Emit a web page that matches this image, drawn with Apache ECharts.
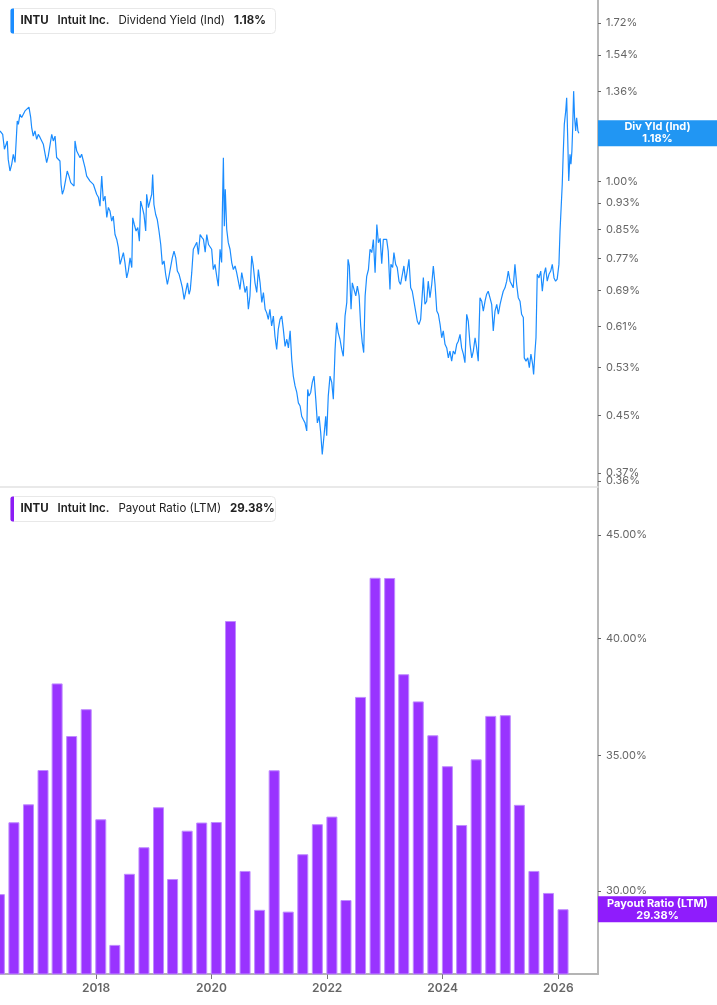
<!DOCTYPE html>
<html>
<head>
<meta charset="utf-8">
<title>INTU Dividend Yield / Payout Ratio</title>
<script src="https://cdn.jsdelivr.net/npm/echarts@6/dist/echarts.min.js"></script>
<style>
    html, body { margin: 0; padding: 0; background: #fff; }
    .chart { width: 717px; height: 1005px; }
</style>
</head>
<body>
<div class="chart"></div>
<script>
// 股息率 (Ind) 日期与数值
var yieldDates = [
    '2016-05-04', '2016-05-21', '2016-06-01', '2016-06-11', '2016-06-19', '2016-06-25', '2016-07-06', '2016-07-17', '2016-07-27', '2016-08-07',
    '2016-08-17', '2016-08-21', '2016-08-28', '2016-09-07', '2016-09-18', '2016-09-28', '2016-10-09', '2016-10-20', '2016-11-03', '2016-11-14',
    '2016-11-20', '2016-11-30', '2016-12-11', '2016-12-22', '2017-01-01', '2017-01-12', '2017-01-23', '2017-02-02', '2017-02-12', '2017-02-23',
    '2017-03-05', '2017-03-16', '2017-03-27', '2017-04-06', '2017-04-17', '2017-04-27', '2017-05-07', '2017-05-18', '2017-05-25', '2017-06-02',
    '2017-06-12', '2017-06-23', '2017-07-03', '2017-07-14', '2017-07-25', '2017-08-04', '2017-08-15', '2017-08-21', '2017-09-01', '2017-09-11',
    '2017-09-22', '2017-10-02', '2017-10-13', '2017-10-23', '2017-11-03', '2017-11-13', '2017-11-24', '2017-12-05', '2017-12-15', '2017-12-25',
    '2018-01-05', '2018-01-16', '2018-01-26', '2018-02-06', '2018-02-16', '2018-02-27', '2018-03-10', '2018-03-20', '2018-03-30', '2018-04-10',
    '2018-04-20', '2018-05-01', '2018-05-12', '2018-05-22', '2018-06-02', '2018-06-12', '2018-06-23', '2018-07-03', '2018-07-14', '2018-07-24',
    '2018-08-04', '2018-08-15', '2018-08-21', '2018-08-31', '2018-09-11', '2018-09-22', '2018-10-02', '2018-10-10', '2018-10-21', '2018-10-31',
    '2018-11-11', '2018-11-17', '2018-11-28', '2018-12-08', '2018-12-19', '2018-12-25', '2019-01-02', '2019-01-13', '2019-01-23', '2019-02-03',
    '2019-02-14', '2019-02-24', '2019-03-07', '2019-03-17', '2019-03-28', '2019-04-07', '2019-04-18', '2019-04-28', '2019-05-09', '2019-05-20',
    '2019-05-30', '2019-06-10', '2019-06-21', '2019-07-01', '2019-07-12', '2019-07-22', '2019-08-02', '2019-08-12', '2019-08-20', '2019-08-29',
    '2019-09-08', '2019-09-19', '2019-09-30', '2019-10-10', '2019-10-21', '2019-11-01', '2019-11-11', '2019-11-22', '2019-12-02', '2019-12-13',
    '2019-12-23', '2020-01-02', '2020-01-12', '2020-01-23', '2020-02-03', '2020-02-13', '2020-02-24', '2020-03-05', '2020-03-09', '2020-03-16',
    '2020-03-22', '2020-03-28', '2020-04-06', '2020-04-16', '2020-04-27', '2020-05-08', '2020-05-18', '2020-05-29', '2020-06-08', '2020-06-18',
    '2020-06-29', '2020-07-10', '2020-07-20', '2020-07-31', '2020-08-11', '2020-08-21', '2020-08-31', '2020-09-11', '2020-09-21', '2020-10-02',
    '2020-10-13', '2020-10-23', '2020-11-03', '2020-11-14', '2020-11-24', '2020-12-05', '2020-12-15', '2020-12-25', '2021-01-04', '2021-01-15',
    '2021-01-26', '2021-02-05', '2021-02-16', '2021-02-26', '2021-03-09', '2021-03-20', '2021-03-30', '2021-04-10', '2021-04-21', '2021-05-01',
    '2021-05-12', '2021-05-22', '2021-06-01', '2021-06-12', '2021-06-23', '2021-07-03', '2021-07-14', '2021-07-24', '2021-08-03', '2021-08-14',
    '2021-08-25', '2021-08-31', '2021-09-08', '2021-09-19', '2021-09-29', '2021-10-10', '2021-10-21', '2021-10-31', '2021-11-11', '2021-11-21',
    '2021-12-01', '2021-12-12', '2021-12-23', '2021-12-29', '2022-01-08', '2022-01-19', '2022-01-30', '2022-02-09', '2022-02-20', '2022-03-02',
    '2022-03-12', '2022-03-23', '2022-04-03', '2022-04-13', '2022-04-24', '2022-05-05', '2022-05-13', '2022-05-21', '2022-06-01', '2022-06-09',
    '2022-06-20', '2022-07-01', '2022-07-11', '2022-07-22', '2022-08-01', '2022-08-11', '2022-08-20', '2022-08-29', '2022-09-08', '2022-09-19',
    '2022-09-29', '2022-10-10', '2022-10-20', '2022-10-31', '2022-11-11', '2022-11-21', '2022-12-02', '2022-12-12', '2022-12-22', '2023-01-01',
    '2023-01-12', '2023-01-22', '2023-02-02', '2023-02-08', '2023-02-19', '2023-02-27', '2023-03-10', '2023-03-20', '2023-03-31', '2023-04-10',
    '2023-04-21', '2023-05-01', '2023-05-12', '2023-05-22', '2023-06-02', '2023-06-13', '2023-06-23', '2023-07-04', '2023-07-14', '2023-07-25',
    '2023-08-04', '2023-08-15', '2023-08-25', '2023-09-01', '2023-09-11', '2023-09-22', '2023-10-02', '2023-10-13', '2023-10-24', '2023-11-03',
    '2023-11-14', '2023-11-25', '2023-12-05', '2023-12-16', '2023-12-26', '2024-01-05', '2024-01-16', '2024-01-27', '2024-02-06', '2024-02-16',
    '2024-02-27', '2024-03-08', '2024-03-19', '2024-03-30', '2024-04-09', '2024-04-20', '2024-04-30', '2024-05-11', '2024-05-21', '2024-06-01',
    '2024-06-11', '2024-06-22', '2024-07-03', '2024-07-13', '2024-07-24', '2024-08-03', '2024-08-13', '2024-08-24', '2024-09-04', '2024-09-14',
    '2024-09-25', '2024-10-05', '2024-10-15', '2024-10-26', '2024-11-06', '2024-11-16', '2024-11-27', '2024-12-08', '2024-12-18', '2024-12-29',
    '2025-01-08', '2025-01-18', '2025-01-29', '2025-02-09', '2025-02-19', '2025-03-02', '2025-03-12', '2025-03-22', '2025-04-02', '2025-04-13',
    '2025-04-23', '2025-05-04', '2025-05-14', '2025-05-25', '2025-05-31', '2025-06-11', '2025-06-22', '2025-07-02', '2025-07-12', '2025-07-23',
    '2025-07-29', '2025-08-07', '2025-08-13', '2025-08-21', '2025-09-01', '2025-09-12', '2025-09-22', '2025-10-03', '2025-10-13', '2025-10-23',
    '2025-11-03', '2025-11-14', '2025-11-24', '2025-12-05', '2025-12-15', '2025-12-25', '2026-01-05', '2026-01-12', '2026-01-18', '2026-01-26',
    '2026-02-01', '2026-02-08', '2026-02-17', '2026-02-23', '2026-03-01', '2026-03-08', '2026-03-16', '2026-03-22', '2026-03-28', '2026-04-02',
    '2026-04-08', '2026-04-14', '2026-04-21', '2026-04-27', '2026-05-05', '2026-05-11'
];
var yieldValues = [
    1.189, 1.175, 1.117, 1.110, 1.149, 1.079, 1.037, 1.061, 1.098, 1.068,
    1.068, 1.230, 1.216, 1.258, 1.245, 1.251, 1.273, 1.267, 1.290, 1.245,
    1.204, 1.168, 1.189, 1.155, 1.175, 1.163, 1.168, 1.136, 1.143, 1.067,
    1.091, 1.098, 1.175, 1.149, 1.168, 1.086, 1.079, 1.073, 0.991, 0.958,
    0.974, 0.974, 1.037, 1.019, 0.997, 1.002, 0.985, 1.149, 1.110, 1.098,
    1.085, 1.098, 1.073, 1.050, 1.019, 1.025, 1.002, 1.008, 0.991, 0.985,
    0.958, 0.948, 0.920, 1.019, 0.936, 0.952, 0.885, 0.916, 0.905, 0.874,
    0.889, 0.835, 0.821, 0.799, 0.754, 0.750, 0.785, 0.758, 0.720, 0.737,
    0.771, 0.746, 0.884, 0.864, 0.845, 0.855, 0.816, 0.936, 0.915, 0.894,
    0.845, 0.958, 0.915, 0.936, 0.958, 1.025, 0.925, 0.894, 0.879, 0.845,
    0.807, 0.754, 0.763, 0.729, 0.704, 0.724, 0.720, 0.771, 0.789, 0.771,
    0.737, 0.729, 0.712, 0.696, 0.669, 0.665, 0.708, 0.681, 0.692, 0.733,
    0.794, 0.799, 0.813, 0.780, 0.835, 0.827, 0.821, 0.786, 0.835, 0.807,
    0.802, 0.794, 0.741, 0.754, 0.724, 0.700, 0.794, 0.759, 0.889, 1.085,
    0.859, 0.974, 0.850, 0.812, 0.794, 0.758, 0.741, 0.750, 0.733, 0.737,
    0.692, 0.733, 0.712, 0.685, 0.700, 0.647, 0.677, 0.776, 0.750, 0.708,
    0.685, 0.741, 0.708, 0.662, 0.685, 0.647, 0.639, 0.625, 0.647, 0.611,
    0.632, 0.590, 0.564, 0.604, 0.625, 0.632, 0.604, 0.570, 0.584, 0.567,
    0.601, 0.545, 0.515, 0.498, 0.487, 0.470, 0.465, 0.449, 0.444, 0.439,
    0.427, 0.492, 0.481, 0.487, 0.504, 0.515, 0.476, 0.439, 0.449, 0.425,
    0.394, 0.420, 0.449, 0.420, 0.481, 0.515, 0.504, 0.476, 0.564, 0.618,
    0.597, 0.584, 0.564, 0.551, 0.632, 0.662, 0.767, 0.750, 0.647, 0.708,
    0.692, 0.677, 0.700, 0.677, 0.611, 0.577, 0.558, 0.677, 0.724, 0.741,
    0.794, 0.785, 0.821, 0.733, 0.864, 0.812, 0.824, 0.756, 0.821, 0.826,
    0.821, 0.789, 0.692, 0.754, 0.746, 0.785, 0.754, 0.746, 0.712, 0.704,
    0.704, 0.750, 0.712, 0.737, 0.767, 0.696, 0.688, 0.688, 0.643, 0.621,
    0.614, 0.625, 0.629, 0.721, 0.658, 0.665, 0.712, 0.673, 0.704, 0.750,
    0.704, 0.643, 0.636, 0.614, 0.587, 0.601, 0.574, 0.567, 0.548, 0.561,
    0.542, 0.561, 0.555, 0.574, 0.580, 0.594, 0.567, 0.555, 0.539, 0.636,
    0.621, 0.574, 0.548, 0.561, 0.587, 0.567, 0.542, 0.673, 0.665, 0.643,
    0.665, 0.681, 0.688, 0.673, 0.658, 0.601, 0.643, 0.658, 0.636, 0.658,
    0.673, 0.688, 0.696, 0.712, 0.737, 0.712, 0.704, 0.696, 0.754, 0.704,
    0.673, 0.665, 0.636, 0.629, 0.548, 0.542, 0.548, 0.530, 0.555, 0.536,
    0.518, 0.561, 0.587, 0.729, 0.720, 0.737, 0.688, 0.729, 0.746, 0.712,
    0.729, 0.737, 0.754, 0.720, 0.712, 0.717, 0.754, 0.845, 0.905, 0.991,
    1.098, 1.216, 1.273, 1.332, 1.175, 1.002, 1.098, 1.061, 1.110, 1.202,
    1.362, 1.244, 1.189, 1.244, 1.189, 1.180
];

// 派息率 (LTM) 按财季
var payoutDates = [
    '2016-04-30', '2016-07-31', '2016-10-31', '2017-01-31', '2017-04-30', '2017-07-31', '2017-10-31', '2018-01-31',
    '2018-04-30', '2018-07-31', '2018-10-31', '2019-01-31', '2019-04-30', '2019-07-31', '2019-10-31', '2020-01-31',
    '2020-04-30', '2020-07-31', '2020-10-31', '2021-01-31', '2021-04-30', '2021-07-31', '2021-10-31', '2022-01-31',
    '2022-04-30', '2022-07-31', '2022-10-31', '2023-01-31', '2023-04-30', '2023-07-31', '2023-10-31', '2024-01-31',
    '2024-04-30', '2024-07-31', '2024-10-31', '2025-01-31', '2025-04-30', '2025-07-31', '2025-10-31', '2026-01-31'
];
var payoutValues = [
    29.89, 32.44, 33.11, 34.43, 38.00, 35.79, 36.90, 32.55,
    28.21, 30.59, 31.53, 33.00, 30.41, 32.13, 32.43, 32.45,
    40.80, 30.69, 29.36, 34.42, 29.30, 31.28, 32.37, 32.65,
    29.69, 37.42, 42.86, 42.85, 38.40, 37.23, 35.82, 34.58,
    32.34, 34.85, 36.62, 36.65, 33.09, 30.69, 29.93, 29.38
];

// 刻度
var yieldTicks = [0.36, 0.37, 0.45, 0.53, 0.61, 0.69, 0.77, 0.85, 0.93, 1.00, 1.18, 1.36, 1.54, 1.72];
var payoutTicks = [30, 35, 40, 45];
var yearTicks = ['2018-01-01', '2020-01-01', '2022-01-01', '2024-01-01', '2026-01-01'];
var dateRange = ['2016-05-04', '2026-09-09'];

window.onload = function () {
    var myChart = echarts.init(document.querySelector(".chart"));

    // 日期转成毫秒，x 轴用数值轴
    function ts(d) { return new Date(d).getTime(); }

    var lastYield = yieldValues[yieldValues.length - 1];
    var lastPayout = payoutValues[payoutValues.length - 1];
    var fontName = 'Inter, "Noto Sans", sans-serif';

    var yieldData = yieldDates.map(function (d, i) { return [ts(d), yieldValues[i]]; });
    var payoutData = payoutDates.map(function (d, i) { return [ts(d), payoutValues[i]]; });
    var yearValues = yearTicks.map(ts);

    // 左上角的说明框
    function infoBox(top, color, name, value) {
        return {
            type: 'group',
            left: 10,
            top: top,
            children: [
                {
                    type: 'rect',
                    shape: { x: 0, y: 0, width: 265, height: 25, r: 4 },
                    style: { fill: '#fff', stroke: '#e8e8e8', lineWidth: 1 }
                },
                {
                    type: 'rect',
                    shape: { x: 0, y: 0, width: 3.5, height: 25, r: [2, 0, 0, 2] },
                    style: { fill: color }
                },
                {
                    type: 'text',
                    x: 10,
                    y: 12.5,
                    style: {
                        text: '{a|INTU}{b|Intuit Inc.}{c|' + name + '}{d|' + value + '}',
                        verticalAlign: 'middle',
                        rich: {
                            a: { fontFamily: fontName, fontSize: 11.5, fontWeight: 700, fill: '#222' },
                            b: { fontFamily: fontName, fontSize: 11.5, fontWeight: 600, fill: '#222', padding: [0, 0, 0, 9] },
                            c: { fontFamily: fontName, fontSize: 11.5, fontWeight: 400, fill: '#222', padding: [0, 0, 0, 9] },
                            d: { fontFamily: fontName, fontSize: 11.5, fontWeight: 700, fill: '#222', padding: [0, 0, 0, 9] }
                        }
                    }
                }
            ]
        };
    }

    // 右侧的当前值标签
    function lastMark(value, text, bg) {
        return {
            silent: true,
            symbol: ['none', 'none'],
            lineStyle: { color: 'rgba(0,0,0,0)', width: 1, type: 'solid' },
            label: {
                show: true,
                position: 'end',
                distance: 59.5,
                align: 'center',
                formatter: text,
                width: 119,
                padding: [1, 0],
                lineHeight: 12,
                backgroundColor: bg,
                color: '#fff',
                fontFamily: fontName,
                fontSize: 11,
                fontWeight: 700
            },
            data: [{ yAxis: value }]
        };
    }

    function yAxisOf(index, min, max, ticks, showLine) {
        return {
            type: 'log',
            gridIndex: index,
            position: 'right',
            min: min,
            max: max,
            axisLine: { show: showLine, onZero: false, lineStyle: { color: '#b8b8b8', width: 2 } },
            axisTick: { show: true, customValues: ticks, length: 3, lineStyle: { color: '#666' } },
            axisLabel: {
                customValues: ticks,
                formatter: function (v) { return Number(v).toFixed(2) + '%'; },
                color: '#666',
                fontFamily: fontName,
                fontSize: 11,
                margin: 8
            },
            splitLine: { show: false }
        };
    }

    var option = {
        animation: false,
        backgroundColor: '#fff',
        grid: [
            { left: 0, right: 119, top: 0, height: 487 },
            { left: 0, right: 119, top: 487, bottom: 31 }
        ],
        xAxis: [
            {
                type: 'value',
                gridIndex: 0,
                min: ts(dateRange[0]),
                max: ts(dateRange[1]),
                axisLine: { show: true, onZero: false, lineStyle: { color: '#e2e2e2', width: 1.5 } },
                axisTick: { show: false },
                axisLabel: { show: false },
                splitLine: { show: false }
            },
            {
                type: 'value',
                gridIndex: 1,
                min: ts(dateRange[0]),
                max: ts(dateRange[1]),
                axisLine: { show: true, onZero: false, lineStyle: { color: '#b4b4b4', width: 2 } },
                axisTick: { show: true, customValues: yearValues, length: 5, lineStyle: { color: '#777', width: 1 } },
                axisLabel: {
                    customValues: yearValues,
                    formatter: function (v) { return String(new Date(v).getUTCFullYear()); },
                    color: '#666',
                    fontFamily: fontName,
                    fontSize: 12,
                    fontWeight: 600,
                    margin: 8
                },
                splitLine: { show: false }
            }
        ],
        yAxis: [
            // 上图主轴（0.36% 单独放在一条不画轴线的副轴上，以免与 0.37% 互相遮挡而被隐藏）
            yAxisOf(0, 0.3527, 1.859, yieldTicks.slice(1), true),
            yAxisOf(1, 27.29, 47.53, payoutTicks, true),
            yAxisOf(0, 0.3527, 1.859, yieldTicks.slice(0, 1), false)
        ],
        graphic: [
            infoBox(8, '#1a8cff', 'Dividend Yield (Ind)', lastYield.toFixed(2) + '%'),
            infoBox(496, '#8c1cf5', 'Payout Ratio (LTM)', lastPayout.toFixed(2) + '%')
        ],
        series: [
            {
                name: 'Dividend Yield (Ind)',
                type: 'line',
                xAxisIndex: 0,
                yAxisIndex: 0,
                data: yieldData,
                showSymbol: false,
                symbol: 'none',
                lineStyle: { color: '#1a8cff', width: 1.2 },
                markLine: lastMark(lastYield, 'Div Yld (Ind)\n' + lastYield.toFixed(2) + '%', '#2196f3')
            },
            {
                name: 'Payout Ratio (LTM)',
                type: 'bar',
                xAxisIndex: 1,
                yAxisIndex: 1,
                data: payoutData,
                barWidth: 11,
                clip: true,
                itemStyle: { color: '#9933ff', borderColor: '#bf8bff', borderWidth: 1 },
                markLine: lastMark(lastPayout, 'Payout Ratio (LTM)\n' + lastPayout.toFixed(2) + '%', '#8f1cfc')
            }
        ]
    };

    myChart.setOption(option);
    window.addEventListener("resize", function () {
        myChart.resize();
    });
};
</script>
</body>
</html>
